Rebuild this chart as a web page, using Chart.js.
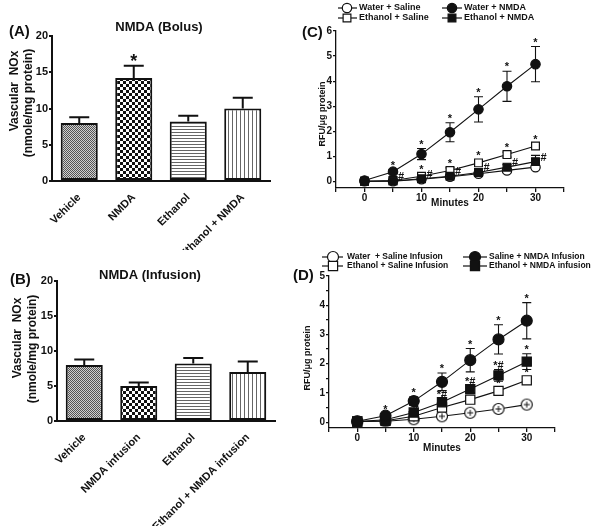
<!DOCTYPE html>
<html><head><meta charset="utf-8">
<script src="https://cdn.jsdelivr.net/npm/chart.js@4.4.1/dist/chart.umd.min.js"></script>
<style>
html,body{margin:0;padding:0;background:#fff;}
#wrap{position:relative;width:600px;height:526px;overflow:hidden;background:#fff;}
canvas{position:absolute;}
</style></head><body>
<div id="wrap">
<canvas id="cA" width="300" height="250" style="left:0px;top:0px"></canvas>
<canvas id="cB" width="300" height="276" style="left:0px;top:250px"></canvas>
<canvas id="cC" width="310" height="250" style="left:290px;top:0px"></canvas>
<canvas id="cD" width="310" height="276" style="left:290px;top:250px"></canvas>
</div>
<script>
// ---------------- DATA ----------------
const barCatsA = ['Vehicle', 'NMDA', 'Ethanol', 'Ethanol + NMDA'];
const barValsA = [8.0, 14.2, 8.2, 10.0];
const barErrA  = [0.8, 1.7, 0.8, 1.5];
const barMarkA = ['', '*', '', ''];

const barCatsB = ['Vehicle', 'NMDA infusion', 'Ethanol', 'Ethanol + NMDA infusion'];
const barValsB = [8.0, 5.0, 8.2, 7.0];
const barErrB  = [0.8, 0.5, 0.8, 1.5];
const barMarkB = ['', '', '', ''];

const barYTicks = [0, 5, 10, 15, 20];
const barYTitle = ['Vascular  NOx', '(nmole/mg protein)'];

const minutes = [0, 5, 10, 15, 20, 25, 30];
const minuteTickLabels = [0, 10, 20, 30];
const lineYTitle = 'RFU/\u03bcg protein';

// Panel C
const cWaterSaline    = [0.02, 0.02, 0.10, 0.20, 0.32, 0.45, 0.58];
const cWaterSalineErr = [0.01, 0.02, 0.03, 0.05, 0.05, 0.05, 0.08];
const cWaterNMDA      = [0.05, 0.40, 1.10, 1.97, 2.88, 3.80, 4.68];
const cWaterNMDAErr   = [0.03, 0.08, 0.22, 0.38, 0.50, 0.60, 0.70];
const cEthSaline      = [0.02, 0.05, 0.22, 0.45, 0.75, 1.08, 1.42];
const cEthSalineErr   = [0.02, 0.03, 0.10, 0.10, 0.10, 0.10, 0.10];
const cEthNMDA        = [0.02, 0.03, 0.12, 0.22, 0.37, 0.58, 0.80];
const cEthNMDAErr     = [0.01, 0.02, 0.05, 0.05, 0.05, 0.10, 0.25];
const cMarkWaterNMDA  = ['', '*', '*', '*', '*', '*', '*'];
const cMarkEthSaline  = ['', '', '*', '*', '*', '*', '*'];
const cMarkEthNMDA    = ['', '#', '#', '#', '#', '#', '#'];
const cYTicks = [0, 1, 2, 3, 4, 5, 6];

// Panel D
const dWaterSaline    = [0.02, 0.03, 0.10, 0.20, 0.32, 0.45, 0.60];
const dWaterSalineErr = [0.01, 0.01, 0.02, 0.03, 0.03, 0.03, 0.04];
const dSalineNMDA     = [0.03, 0.22, 0.72, 1.38, 2.12, 2.83, 3.47];
const dSalineNMDAErr  = [0.02, 0.05, 0.15, 0.30, 0.40, 0.50, 0.62];
const dEthSaline      = [0.02, 0.05, 0.20, 0.50, 0.77, 1.07, 1.43];
const dEthSalineErr   = [0.02, 0.02, 0.05, 0.08, 0.08, 0.10, 0.12];
const dEthNMDA        = [0.02, 0.08, 0.33, 0.68, 1.13, 1.60, 2.07];
const dEthNMDAErr     = [0.02, 0.03, 0.08, 0.12, 0.12, 0.20, 0.27];
const dMarkSalineNMDA = ['', '*', '*', '*', '*', '*', '*'];
const dMarkEthNMDA    = ['', '', '*#', '*#', '*#', '*#', '*'];
const dMarkEthSaline  = ['', '', '', '*', '*', '*', '*'];
const dYTicks = [0, 1, 2, 3, 4, 5];

// ---------------- STYLE HELPERS ----------------
const INK = '#111';
const FF = '"Liberation Sans", Arial, Helvetica, sans-serif';
Chart.defaults.font.family = FF;
Chart.defaults.font.weight = 'bold';
Chart.defaults.color = INK;

function tile(w, h, draw) {
  const c = document.createElement('canvas'); c.width = w; c.height = h;
  const x = c.getContext('2d'); draw(x);
  return document.createElement('canvas').getContext('2d').createPattern(c, 'repeat');
}
const patVehicle = tile(2, 2, x => { x.fillStyle = '#d0d0d0'; x.fillRect(0,0,2,2); x.fillStyle = '#555'; x.fillRect(0,0,1,1); x.fillRect(1,1,1,1); });
const patNMDA = tile(6, 6, x => { x.fillStyle = '#fff'; x.fillRect(0,0,6,6); x.fillStyle = '#111'; x.fillRect(0,0,3,3); x.fillRect(3,3,3,3); });
const patHoriz = tile(4, 3, x => { x.fillStyle = '#fff'; x.fillRect(0,0,4,3); x.fillStyle = '#666'; x.fillRect(0,0,4,1); });
const patVert = tile(4, 4, x => { x.fillStyle = '#fff'; x.fillRect(0,0,4,4); x.fillStyle = '#666'; x.fillRect(0,0,1,4); });

function crossCircle(r) {
  const s = Math.ceil(2 * r + 3);
  const c = document.createElement('canvas'); c.width = s; c.height = s;
  const x = c.getContext('2d'); const m = s / 2;
  x.fillStyle = '#fff'; x.strokeStyle = INK; x.lineWidth = 1.2;
  x.beginPath(); x.arc(m, m, r, 0, Math.PI * 2); x.fill(); x.stroke();
  x.lineWidth = 1;
  x.beginPath(); x.moveTo(m - r * 0.55, m); x.lineTo(m + r * 0.55, m); x.moveTo(m, m - r * 0.55); x.lineTo(m, m + r * 0.55); x.stroke();
  return c;
}

function valOf(d) { return (d && typeof d === 'object') ? d.y : d; }

// error bars
function errPlugin(cfg) {
  function draw(chart) {
    const ctx = chart.ctx, ys = chart.scales.y;
    ctx.save(); ctx.strokeStyle = INK; ctx.lineWidth = cfg.lw;
    chart.data.datasets.forEach((ds, i) => {
      if (!ds.errors) return;
      chart.getDatasetMeta(i).data.forEach((el, j) => {
        const e = ds.errors[j]; if (!e) return;
        const v = valOf(ds.data[j]);
        const top = ys.getPixelForValue(v + e);
        const bot = cfg.upOnly ? ys.getPixelForValue(v) : ys.getPixelForValue(v - e);
        ctx.beginPath();
        ctx.moveTo(el.x, top); ctx.lineTo(el.x, bot);
        ctx.moveTo(el.x - cfg.cap, top); ctx.lineTo(el.x + cfg.cap, top);
        if (!cfg.upOnly) { ctx.moveTo(el.x - cfg.cap, bot); ctx.lineTo(el.x + cfg.cap, bot); }
        ctx.stroke();
      });
    });
    ctx.restore();
  }
  return cfg.before ? { id: 'errBefore', beforeDatasetsDraw: draw } : { id: 'errAfter', afterDatasetsDraw: draw };
}

// significance marks
function marksPlugin(cfg) {
  return { id: 'marks', afterDatasetsDraw(chart) {
    const ctx = chart.ctx, ys = chart.scales.y;
    ctx.save(); ctx.fillStyle = INK; ctx.font = cfg.font; ctx.textBaseline = 'middle';
    chart.data.datasets.forEach((ds, i) => {
      if (!ds.marks) return;
      chart.getDatasetMeta(i).data.forEach((el, j) => {
        const m = ds.marks[j]; if (!m) return;
        const v = valOf(ds.data[j]); const e = ds.errors ? ds.errors[j] : 0;
        if (ds.markPos === 'right') {
          ctx.textAlign = 'left'; ctx.fillText(m, el.x + cfg.dxRight, el.y + cfg.dyRight);
        } else {
          ctx.textAlign = 'center'; ctx.fillText(m, el.x, ys.getPixelForValue(v + e) + cfg.dyAbove);
        }
      });
    });
    ctx.restore();
  }};
}

// free texts (panel letters, titles, rotated axis titles)
function textPlugin(items) {
  return { id: 'texts', afterDraw(chart) {
    const ctx = chart.ctx;
    items.forEach(t => {
      ctx.save(); ctx.fillStyle = INK; ctx.textBaseline = 'middle';
      ctx.font = t.font; ctx.textAlign = t.align || 'left';
      ctx.translate(t.x, t.y); if (t.rot) ctx.rotate(t.rot);
      ctx.fillText(t.text, 0, 0);
      ctx.restore();
    });
  }};
}

// line+marker legend
function legendPlugin(items, font) {
  return { id: 'lineLegend', afterDraw(chart) {
    const ctx = chart.ctx; ctx.save(); ctx.font = font; ctx.textBaseline = 'middle'; ctx.textAlign = 'left';
    items.forEach(it => {
      const ds = chart.data.datasets[it.ds];
      ctx.strokeStyle = INK; ctx.lineWidth = 1.2;
      ctx.beginPath(); ctx.moveTo(it.x0, it.y); ctx.lineTo(it.x1, it.y); ctx.stroke();
      ctx.fillStyle = ds.pointBackgroundColor; ctx.strokeStyle = INK; ctx.lineWidth = 1.2;
      Chart.helpers.drawPoint(ctx, { pointStyle: ds.legendPointStyle || ds.pointStyle, radius: ds.pointRadius, rotation: 0, borderWidth: 1.2 }, it.m, it.y);
      ctx.fillStyle = INK; ctx.fillText(ds.label, it.t, it.y);
    });
    ctx.restore();
  }};
}

const UP = -Math.PI / 2;

// ---------------- BAR CHARTS ----------------
function barChart(id, cats, vals, errs, marks, L, texts) {
  return new Chart(document.getElementById(id), {
    type: 'bar',
    data: { labels: cats, datasets: [{
      data: vals, errors: errs, marks: marks,
      backgroundColor: [patVehicle, patNMDA, patHoriz, patVert],
      borderColor: INK, borderWidth: 2, borderSkipped: false,
      barPercentage: 0.68, categoryPercentage: 1.0
    }]},
    options: {
      responsive: false, animation: false, events: [],
      layout: { padding: { left: 0, top: L.top, right: L.right, bottom: 0 } },
      plugins: { legend: { display: false }, tooltip: { enabled: false } },
      scales: {
        x: {
          grid: { display: false }, border: { color: INK, width: 2 },
          ticks: { color: INK, font: { size: 11, weight: 'bold' }, minRotation: 45, maxRotation: 45, autoSkip: false, padding: 2 },
          afterFit(s) { s.height = L.xh; }
        },
        y: {
          min: 0, max: 20,
          afterBuildTicks(s) { s.ticks = barYTicks.map(v => ({ value: v })); },
          ticks: { color: INK, font: { size: 11, weight: 'bold' }, padding: 1 },
          grid: { drawOnChartArea: false, color: INK, lineWidth: 2, tickLength: 3 },
          border: { color: INK, width: 2 },
          title: { display: false },
          afterFit(s) { s.width = L.yw; }
        }
      }
    },
    plugins: [errPlugin({ upOnly: true, cap: 10, lw: 2 }), marksPlugin({ font: 'bold 18px ' + FF, dyAbove: -4, dxRight: 0, dyRight: 0 }), textPlugin(texts)]
  });
}

barChart('cA', barCatsA, barValsA, barErrA, barMarkA,
  { top: 36, right: 30, xh: 69, yw: 52 },
  [ { text: '(A)', x: 9, y: 32, font: 'bold 15px ' + FF },
    { text: 'NMDA (Bolus)', x: 159, y: 27, align: 'center', font: 'bold 13px ' + FF },
    { text: barYTitle[0], x: 15, y: 91, align: 'center', rot: UP, font: 'bold 12px ' + FF },
    { text: barYTitle[1], x: 29, y: 103, align: 'center', rot: UP, font: 'bold 12px ' + FF } ]);

barChart('cB', barCatsB, barValsB, barErrB, barMarkB,
  { top: 31, right: 25, xh: 105, yw: 57 },
  [ { text: '(B)', x: 10, y: 30, font: 'bold 15px ' + FF },
    { text: 'NMDA (Infusion)', x: 150, y: 25, align: 'center', font: 'bold 13px ' + FF },
    { text: barYTitle[0], x: 18, y: 88, align: 'center', rot: UP, font: 'bold 12px ' + FF },
    { text: barYTitle[1], x: 33, y: 99, align: 'center', rot: UP, font: 'bold 12px ' + FF } ]);

// ---------------- LINE CHARTS ----------------
function pts(arr) { return minutes.map((m, i) => ({ x: m, y: arr[i] })); }
function series(label, arr, err, marks, markPos, style, filled, r) {
  return {
    label: label, data: pts(arr), errors: err, marks: marks, markPos: markPos,
    borderColor: INK, borderWidth: 1.1, tension: 0, fill: false,
    pointStyle: style, pointRadius: r, pointHoverRadius: r,
    pointBackgroundColor: filled ? INK : '#fff', pointBorderColor: INK, pointBorderWidth: 1.2
  };
}

function lineChart(id, datasets, yMin, yMax, yTicks, L, texts, legendItems, legendFont) {
  const yAll = [];
  yTicks.forEach((v, i) => { yAll.push(v); if (i < yTicks.length - 1) yAll.push(v + 0.5); });
  return new Chart(document.getElementById(id), {
    type: 'line',
    data: { datasets: datasets },
    options: {
      responsive: false, animation: false, events: [],
      layout: { padding: { left: 0, top: L.top, right: L.right, bottom: L.bottom } },
      plugins: { legend: { display: false }, tooltip: { enabled: false } },
      scales: {
        x: {
          type: 'linear', min: -5, max: 35,
          afterBuildTicks(s) { const t = []; for (let v = -5; v <= 35; v += 5) t.push({ value: v }); s.ticks = t; },
          ticks: { color: INK, font: { size: 10, weight: 'bold' }, padding: 0, autoSkip: false, maxRotation: 0,
                   callback: v => minuteTickLabels.includes(v) ? String(v) : '' },
          grid: { drawOnChartArea: false, color: INK, lineWidth: 1.3, tickLength: 4 },
          border: { color: INK, width: 1.3 },
          title: { display: true, text: 'Minutes', color: INK, font: { size: 10, weight: 'bold' }, padding: { top: 0, bottom: 0 } },
          afterFit(s) { s.height = L.xh; }
        },
        y: {
          min: yMin, max: yMax,
          afterBuildTicks(s) { s.ticks = yAll.map(v => ({ value: v })); },
          ticks: { color: INK, font: { size: 10, weight: 'bold' }, padding: 1,
                   callback: v => yTicks.includes(v) ? String(v) : '' },
          grid: { drawOnChartArea: false, color: INK, lineWidth: 1.3, tickLength: 3 },
          border: { color: INK, width: 1.3 },
          title: { display: false },
          afterFit(s) { s.width = L.yw; }
        }
      }
    },
    plugins: [errPlugin({ before: true, upOnly: false, cap: 4.5, lw: 1.1 }),
              marksPlugin({ font: 'bold 11px ' + FF, dyAbove: -4, dxRight: 5, dyRight: -4 }),
              textPlugin(texts), legendPlugin(legendItems, legendFont)]
  });
}

lineChart('cC', [
    series('Water + NMDA', cWaterNMDA, cWaterNMDAErr, cMarkWaterNMDA, 'above', 'circle', true, 4.7),
    series('Ethanol + NMDA', cEthNMDA, cEthNMDAErr, cMarkEthNMDA, 'right', 'rect', true, 5.5),
    series('Ethanol + Saline', cEthSaline, cEthSalineErr, cMarkEthSaline, 'above', 'rect', false, 5.5),
    series('Water + Saline', cWaterSaline, cWaterSalineErr, null, 'above', 'circle', false, 4.7)
  ], -0.25, 6, cYTicks,
  { top: 31, right: 36, bottom: 41, xh: 21, yw: 46 },
  [ { text: '(C)', x: 12, y: 33, font: 'bold 15px ' + FF },
    { text: lineYTitle, x: 33, y: 114, align: 'center', rot: UP, font: 'bold 9px ' + FF } ],
  [ { ds: 3, x0: 48, x1: 67, m: 57, t: 69, y: 8 },
    { ds: 0, x0: 152, x1: 172, m: 162, t: 174, y: 8 },
    { ds: 2, x0: 48, x1: 67, m: 57, t: 69, y: 18 },
    { ds: 1, x0: 152, x1: 172, m: 162, t: 174, y: 18 } ],
  'bold 9px ' + FF);

const dWS = series('Water  + Saline Infusion', dWaterSaline, dWaterSalineErr, null, 'above', crossCircle(5.5), false, 5.5);
dWS.legendPointStyle = 'circle';
lineChart('cD', [
    series('Saline + NMDA Infusion', dSalineNMDA, dSalineNMDAErr, dMarkSalineNMDA, 'above', 'circle', true, 5.5),
    series('Ethanol + NMDA infusion', dEthNMDA, dEthNMDAErr, dMarkEthNMDA, 'above', 'rect', true, 6.5),
    series('Ethanol + Saline Infusion', dEthSaline, dEthSalineErr, dMarkEthSaline, 'above', 'rect', false, 6.5),
    dWS
  ], -0.2, 5, dYTicks,
  { top: 26, right: 45, bottom: 72, xh: 26, yw: 39 },
  [ { text: '(D)', x: 3, y: 26, font: 'bold 15px ' + FF },
    { text: lineYTitle, x: 18, y: 108, align: 'center', rot: UP, font: 'bold 9px ' + FF } ],
  [ { ds: 3, x0: 32, x1: 53, m: 43, t: 57, y: 7 },
    { ds: 0, x0: 173, x1: 197, m: 185, t: 199, y: 7 },
    { ds: 2, x0: 32, x1: 53, m: 43, t: 57, y: 16 },
    { ds: 1, x0: 173, x1: 197, m: 185, t: 199, y: 16 } ],
  'bold 8.5px ' + FF);
</script>
</body></html>
